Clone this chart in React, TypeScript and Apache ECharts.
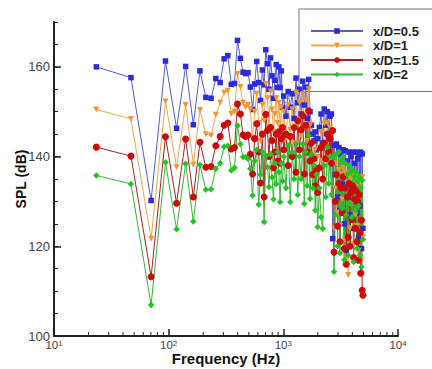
import { useEffect, useRef } from "react";
import * as echarts from "echarts";

const freqs = [
  23.4, 46.9, 70.3, 93.8, 117.2, 140.6, 164.1, 187.5, 210.9, 234.4, 257.8, 281.3, 304.7, 328.1, 351.6, 375.0,
  398.4, 421.9, 445.3, 468.8, 492.2, 515.6, 539.1, 562.5, 585.9, 609.4, 632.8, 656.3, 679.7, 703.1, 726.6, 750.0,
  773.4, 796.9, 820.3, 843.8, 867.2, 890.6, 914.1, 937.5, 960.9, 984.4,
  1007.8, 1054.7, 1101.6, 1148.4, 1195.3, 1242.2, 1289.1, 1335.9, 1382.8, 1429.7, 1476.6, 1523.4, 1570.3, 1617.2,
  1664.1, 1710.9, 1757.8, 1804.7, 1851.6, 1898.4, 1945.3, 1992.2,
  2062.5, 2132.8, 2203.1, 2273.4, 2343.8, 2414.1, 2484.4, 2554.7, 2625.0, 2695.3, 2765.6, 2835.9, 2906.3, 2976.6,
  3046.9, 3117.2, 3187.5, 3257.8, 3328.1, 3398.4, 3468.8, 3539.1, 3609.4, 3679.7, 3750.0, 3820.3, 3890.6, 3960.9,
  4031.3, 4101.6, 4171.9, 4242.2, 4312.5, 4382.8, 4453.1, 4523.4, 4593.8, 4664.1, 4734.4, 4804.7, 4875.0, 4945.3,
];

const splXD05 = [
  160.0, 157.6, 130.2, 161.3, 146.3, 160.1, 147.1, 159.1, 153.2, 153.0, 157.4, 156.5, 161.8, 162.5, 156.1, 156.3,
  165.9, 161.9, 158.8, 158.5, 158.7, 155.5, 150.5, 156.2, 161.2, 156.5, 152.5, 159.3, 156.0, 163.8, 160.7, 155.0,
  162.0, 158.0, 153.0, 157.0, 160.5, 155.4, 160.0, 155.4, 159.1, 151.0,
  153.5, 149.0, 154.5, 151.0, 154.0, 148.5, 157.5, 152.0, 155.0, 149.5, 156.8, 151.5, 155.5, 148.5, 157.2, 150.0,
  147.0, 145.0, 143.5, 145.5, 141.5, 144.0,
  146.5, 149.5, 143.0, 150.6, 147.0, 150.0, 144.5, 149.0, 149.5, 121.7, 142.5, 136.0, 142.8, 131.0, 142.0, 128.0,
  140.5, 134.0, 141.5, 125.0, 141.3, 119.1, 139.0, 131.0, 141.0, 127.0, 140.0, 133.0, 141.0, 124.0, 138.5, 130.0,
  141.0, 127.5, 139.5, 122.0, 140.5, 129.0, 141.0, 119.5, 140.6, 124.0,
];

const splXD1 = [
  150.5, 148.4, 121.7, 152.3, 137.6, 151.5, 138.2, 150.4, 145.0, 144.7, 149.3, 152.0, 154.2, 154.7, 149.5, 150.0,
  158.4, 155.5, 152.0, 151.0, 151.5, 150.5, 144.0, 150.0, 154.0, 147.5, 143.5, 151.5, 148.0, 156.2, 153.0, 146.5,
  154.5, 150.5, 145.5, 149.5, 153.0, 147.5, 152.0, 146.5, 151.0, 143.5,
  150.0, 144.0, 151.5, 146.0, 150.5, 143.0, 154.2, 147.0, 152.0, 144.5, 153.9, 146.5, 152.5, 143.5, 155.0, 147.0,
  143.0, 140.5, 139.0, 141.5, 137.0, 140.0,
  142.0, 145.5, 139.0, 147.3, 142.5, 147.5, 140.0, 146.5, 139.5, 145.5, 124.0, 133.0, 138.5, 127.5, 137.0, 124.5,
  136.0, 130.5, 137.5, 121.5, 136.5, 117.5, 134.0, 113.6, 136.0, 124.0, 135.0, 129.5, 136.0, 120.5, 133.5, 127.0,
  135.5, 124.5, 134.0, 119.0, 135.0, 125.5, 135.4, 117.0, 135.4, 122.0,
];

const splXD15 = [
  142.1, 140.1, 113.2, 144.4, 129.6, 143.9, 131.0, 143.2, 137.6, 137.8, 142.4, 144.5, 147.0, 147.5, 141.7, 142.0,
  151.7, 149.5, 144.8, 144.5, 144.8, 140.5, 136.1, 144.0, 147.3, 141.0, 134.1, 145.0, 131.0, 149.4, 145.8, 140.0,
  146.5, 143.6, 137.5, 141.0, 145.0, 139.0, 145.5, 138.5, 144.0, 146.5,
  141.5, 145.0, 138.0, 144.5, 140.0, 146.5, 136.5, 148.0, 141.5, 146.0, 149.1, 136.1, 147.0, 141.0, 150.2, 139.0,
  143.0, 136.0, 139.5, 133.5, 137.0, 132.0,
  137.5, 142.0, 135.0, 143.0, 139.5, 145.0, 141.0, 144.0, 138.5, 145.8, 118.7, 130.0, 136.0, 124.5, 134.0, 121.0,
  133.0, 127.5, 135.5, 119.5, 133.0, 116.0, 131.0, 122.0, 134.0, 120.0, 132.0, 126.0, 133.5, 117.5, 130.5, 124.0,
  132.5, 121.0, 130.0, 116.9, 131.5, 123.0, 114.0, 125.8, 110.2, 109.1,
];

const splXD2 = [
  135.8, 133.9, 106.9, 138.7, 123.8, 138.4, 125.5, 138.2, 132.6, 132.7, 137.3, 138.5, 142.2, 142.4, 136.9, 137.5,
  146.9, 142.8, 139.9, 139.9, 139.5, 137.3, 131.3, 139.0, 141.5, 129.3, 136.0, 141.0, 125.4, 140.2, 137.6, 133.2,
  140.6, 135.4, 130.5, 138.5, 133.9, 141.0, 136.5, 129.9, 138.5, 134.5,
  140.0, 133.0, 142.5, 129.9, 141.0, 135.0, 142.8, 131.5, 140.0, 135.0, 142.8, 129.5, 141.0, 133.5, 144.7, 130.6,
  140.5, 133.0, 138.0, 128.0, 136.0, 124.3,
  133.0, 126.5, 123.9, 138.0, 131.0, 142.1, 134.0, 140.0, 131.5, 139.9, 114.3, 127.0, 140.5, 120.0, 141.0, 118.5,
  139.0, 128.5, 140.0, 117.0, 138.5, 127.0, 136.0, 118.0, 138.0, 129.5, 136.5, 126.5, 137.0, 116.5, 135.5, 128.0,
  136.5, 119.5, 134.5, 129.0, 135.5, 118.0, 133.0, 115.4, 134.7, 121.5,
];

const seriesNames = ["x/D=0.5", "x/D=1", "x/D=1.5", "x/D=2"];
const xMinorTicks = [
  20, 30, 40, 50, 60, 70, 80, 90,
  200, 300, 400, 500, 600, 700, 800, 900,
  2000, 3000, 4000, 5000, 6000, 7000, 8000, 9000,
];

const FONT = "'Liberation Sans', Arial, Helvetica, sans-serif";

export default function App() {
  const ref = useRef<HTMLDivElement>(null);
  useEffect(() => {
    const chart = echarts.init(ref.current!, null, { renderer: "svg" });
    const mk = (
      name: string,
      vals: number[],
      color: string,
      lineColor: string,
      symbol: string,
      size: number,
      rotate?: number
    ) => ({
      name,
      type: "line",
      data: freqs.map((f, i) => [f, vals[i]]),
      symbol,
      symbolSize: size,
      symbolRotate: rotate,
      showAllSymbol: true,
      itemStyle: { color, borderWidth: 0 },
      lineStyle: { color: lineColor, width: 1 },
      z: 5,
      clip: false,
    });
    chart.setOption({
      animation: false,
      backgroundColor: "#fff",
      textStyle: { fontFamily: FONT },
      grid: { left: 54, right: 34, top: 22, bottom: 33, containLabel: false, outerBoundsMode: "none" },
      legend: {
        data: seriesNames,
        orient: "vertical",
        left: 299,
        top: 9,
        padding: [15, 14, 10, 11],
        itemWidth: 52,
        itemHeight: 7,
        itemGap: 0.5,
        backgroundColor: "#fff",
        borderColor: "#777",
        borderWidth: 1,
        z: 3,
        textStyle: {
          fontSize: 13,
          lineHeight: 14,
          fontWeight: "bold",
          color: "#222",
          fontFamily: FONT,
          padding: [0, 0, 0, 5],
        },
      },
      xAxis: {
        type: "log",
        logBase: 10,
        min: 10,
        max: 10000,
        name: "Frequency (Hz)",
        nameLocation: "middle",
        nameGap: 15,
        nameMoveOverlap: false,
        nameTextStyle: { fontSize: 15, fontWeight: "bold", color: "#111", fontFamily: FONT },
        axisLine: { show: true, lineStyle: { color: "#222", width: 2 } },
        axisTick: { show: true, inside: true, length: 7, lineStyle: { color: "#222", width: 1.5 } },
        splitLine: { show: false },
        minorTick: { show: false },
        axisLabel: {
          margin: 3,
          formatter: (v: number) => `{b|10}{s|${Math.round(Math.log10(v))}}`,
          rich: {
            b: { fontSize: 11.5, color: "#444", fontFamily: FONT },
            s: { fontSize: 8, color: "#444", fontFamily: FONT, verticalAlign: "top" },
          },
        },
      },
      yAxis: [
        {
          type: "value",
          min: 100,
          max: 170,
          interval: 20,
          name: "SPL (dB)",
          nameLocation: "middle",
          nameGap: 26,
          nameMoveOverlap: false,
          nameTextStyle: { fontSize: 14, fontWeight: "bold", color: "#111", fontFamily: FONT },
          axisLine: { show: true, lineStyle: { color: "#222", width: 2 } },
          axisTick: { show: true, inside: true, length: 7, lineStyle: { color: "#222", width: 1.5 } },
          splitLine: { show: false },
          axisLabel: { fontSize: 13, color: "#444", margin: 4, showMaxLabel: false, fontFamily: FONT },
        },
        {
          type: "value",
          position: "left",
          min: 100,
          max: 170,
          interval: 5,
          axisLine: { show: false },
          axisTick: { show: true, inside: true, length: 4, lineStyle: { color: "#222", width: 1 } },
          axisLabel: { show: false },
          splitLine: { show: false },
        },
      ],
      series: [
        {
          type: "custom",
          silent: true,
          z: 1,
          clip: false,
          data: xMinorTicks.map((v) => [v, 100]),
          renderItem: (_p: any, api: any) => {
            const p = api.coord([api.value(0), api.value(1)]);
            return {
              type: "line",
              shape: { x1: p[0], y1: p[1], x2: p[0], y2: p[1] - 4 },
              style: { stroke: "#222", lineWidth: 1 },
            };
          },
        },
        mk(seriesNames[0], splXD05, "#2b2bdc", "#5a5ad0", "rect", 5.5),
        mk(seriesNames[1], splXD1, "#f0962e", "#f0a850", "triangle", 6, 180),
        mk(seriesNames[2], splXD15, "#cc0a0a", "#a82020", "circle", 7),
        mk(seriesNames[3], splXD2, "#22c322", "#35b535", "diamond", 6.5),
      ],
    });
    return () => chart.dispose();
  }, []);
  return (
    <div
      ref={ref}
      style={{ position: "fixed", left: 0, top: 0, width: 432, height: 369, background: "#fff" }}
    />
  );
}
